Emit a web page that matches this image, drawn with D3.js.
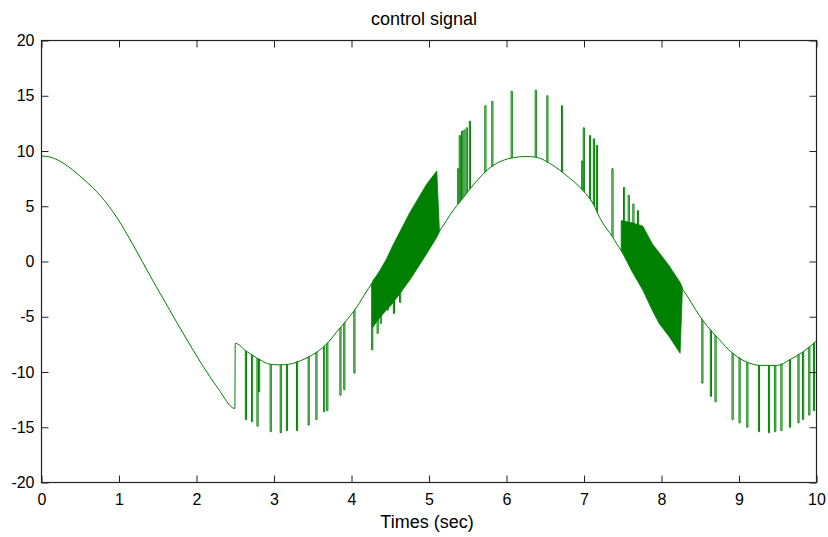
<!DOCTYPE html>
<html lang="en">
<head>
  <meta charset="UTF-8">
  <script src="https://cdnjs.cloudflare.com/ajax/libs/d3/7.8.5/d3.min.js"></script>
  <title>control signal</title>
  <style>
    body { margin: 0; background: #fff; }
    text { font-family: "Liberation Sans", Arial, sans-serif; fill: #000; }
  </style>
</head>
<body>
  <script>
    // smooth part of the signal
    const baseT = [0, 0.11, 0.22, 0.33, 0.46, 0.55, 0.76, 0.98, 1.19, 1.41, 1.63, 1.84, 2.06, 2.28, 2.495,
      2.5, 2.64, 2.82, 2.95, 3.07, 3.19, 3.40, 3.53, 3.66, 3.83, 4.04, 4.28,
      5.13, 5.32, 5.40, 5.58, 5.79, 6.09, 6.25, 6.37, 6.60, 6.77, 6.99, 7.12, 7.20, 7.37, 7.48,
      8.28, 8.49, 8.54, 8.75, 8.90, 9.10, 9.27, 9.50, 9.65, 9.82, 10.0];
    const baseV = [9.55, 9.45, 9.15, 8.67, 7.95, 7.4, 5.96, 3.9, 1.4, -1.4, -4.1, -6.65, -9.2, -11.5, -13.3,
      -7.4, -8.1, -8.9, -9.3, -9.35, -9.3, -8.8, -8.3, -7.6, -6.2, -4.4, -1.8,
      2.7, 4.7, 5.4, 7.0, 8.5, 9.4, 9.5, 9.45, 8.7, 7.8, 6.4, 5.2, 4.0, 2.2, 1.0,
      -2.6, -4.9, -5.4, -7.1, -8.2, -9.1, -9.4, -9.4, -8.9, -8.2, -7.2];

    // switching pulses: time and tip value
    const spikeT = [2.63, 2.71, 2.78, 2.80, 2.95, 3.08, 3.16, 3.29, 3.44, 3.54, 3.64, 3.68, 3.85, 3.90, 4.03,
      4.26, 4.33, 4.37, 4.46, 4.54, 4.62,
      5.37, 5.39, 5.42, 5.45, 5.48, 5.52, 5.72, 5.81, 6.06, 6.37, 6.52, 6.71,
      6.97, 6.99, 7.07, 7.12, 7.16, 7.36, 7.51, 7.57, 7.63, 7.69,
      8.52, 8.63, 8.69, 8.91, 9.00, 9.10, 9.25, 9.38, 9.46, 9.54, 9.65, 9.76, 9.82, 9.90, 9.96];
    const spikeV = [-14.3, -14.5, -14.9, -11.8, -15.4, -15.5, -15.3, -15.3, -14.8, -14.3, -13.6, -13.5, -12.1, -11.6, -10.1,
      -8.0, -6.5, -5.6, -4.4, -4.7, -3.7,
      8.4, 11.4, 11.8, 11.9, 12.1, 12.7, 14.1, 14.5, 15.4, 15.5, 15.0, 14.1,
      9.1, 12.1, 11.4, 11.1, 10.5, 8.4, 6.7, 6.0, 5.2, 4.6,
      -11.0, -12.2, -12.7, -14.3, -14.6, -15.0, -15.4, -15.5, -15.4, -15.3, -15.0, -14.6, -14.3, -13.9, -13.5];

    // dense chattering bands: upper and lower envelopes
    const band1T = [4.27, 4.35, 4.45, 4.53, 4.75, 4.97, 5.10, 5.135];
    const band1Hi = [-1.8, -1.0, 0.2, 1.4, 4.4, 7.0, 8.2, 2.7];
    const band1Lo = [-6.0, -5.2, -4.4, -3.8, -1.7, 0.7, 2.2, 2.7];
    const band2T = [7.48, 7.62, 7.76, 7.88, 7.97, 8.10, 8.24, 8.27];
    const band2Hi = [3.7, 3.5, 3.2, 1.6, 0.8, -0.4, -1.9, -2.4];
    const band2Lo = [1.0, -0.9, -2.6, -4.4, -5.6, -6.8, -8.3, -2.4];

    const xTicks = d3.range(0, 11, 1);
    const yTicks = [-20, -15, -10, -5, 0, 5, 10, 15, 20];

    const w = 828, h = 537;
    const mLeft = 41.5, mRight = 816.5, mTop = 40.5, mBottom = 482.5;
    const green = "#008000";
    const pulseW = 0.015;

    const svg = d3.select("body").append("svg")
      .attr("width", w)
      .attr("height", h);

    const x = d3.scaleLinear().domain([0, 10]).range([mLeft, mRight]);
    const y = d3.scaleLinear().domain([-20, 20]).range([mBottom, mTop]);
    // piecewise-linear lookup of the smooth part
    const base = d3.scaleLinear().domain(baseT).range(baseV);

    const line = d3.line().x(d => x(d[0])).y(d => y(d[1]));

    // bands
    [[band1T, band1Hi, band1Lo], [band2T, band2Hi, band2Lo]].forEach(b => {
      const pts = b[0].map((t, i) => [t, b[1][i], b[2][i]]);
      svg.append("path")
        .attr("d", d3.area().x(d => x(d[0])).y0(d => y(d[2])).y1(d => y(d[1]))(pts))
        .attr("fill", green)
        .attr("stroke", green)
        .attr("stroke-width", 0.8);
    });

    // smooth curve
    svg.append("path")
      .attr("d", line.curve(d3.curveMonotoneX)(baseT.map((t, i) => [t, baseV[i]])))
      .attr("fill", "none")
      .attr("stroke", green)
      .attr("stroke-width", 1);
    line.curve(d3.curveLinear);

    // pulses
    svg.append("g").selectAll("path")
      .data(spikeT.map((t, i) => [t, spikeV[i]]))
      .join("path")
      .attr("d", d => line([[d[0], base(d[0])], [d[0], d[1]], [d[0] + pulseW, d[1]], [d[0] + pulseW, base(d[0] + pulseW)]]))
      .attr("fill", "none")
      .attr("stroke", green)
      .attr("stroke-width", 1);

    // axes, MATLAB style: inward ticks on all four sides
    const axes = [
      [d3.axisBottom(x), "translate(0," + mBottom + ")", xTicks, true, 11],
      [d3.axisTop(x), "translate(0," + mTop + ")", xTicks, false, 7],
      [d3.axisLeft(y), "translate(" + mLeft + ",0)", yTicks, true, 7],
      [d3.axisRight(y), "translate(" + mRight + ",0)", yTicks, false, 7]
    ];
    axes.forEach(a => {
      const g = svg.append("g")
        .attr("transform", a[1])
        .call(a[0].tickValues(a[2]).tickSizeInner(-7).tickSizeOuter(0)
          .tickPadding(a[4])
          .tickFormat(a[3] ? (d => String(d)) : ""));
      g.select(".domain").remove();
      g.selectAll("line").attr("stroke", "#222");
      g.selectAll("text").style("font-size", "16px").attr("fill", "#000");
    });

    svg.append("rect")
      .attr("x", mLeft).attr("y", mTop)
      .attr("width", mRight - mLeft).attr("height", mBottom - mTop)
      .attr("fill", "none")
      .attr("stroke", "#222")
      .attr("stroke-width", 1.2);

    svg.append("text")
      .attr("x", 424).attr("y", 25)
      .attr("text-anchor", "middle")
      .style("font-size", "18px")
      .text("control signal");

    svg.append("text")
      .attr("x", 427).attr("y", 528)
      .attr("text-anchor", "middle")
      .style("font-size", "18px")
      .text("Times (sec)");
  </script>
</body>
</html>
